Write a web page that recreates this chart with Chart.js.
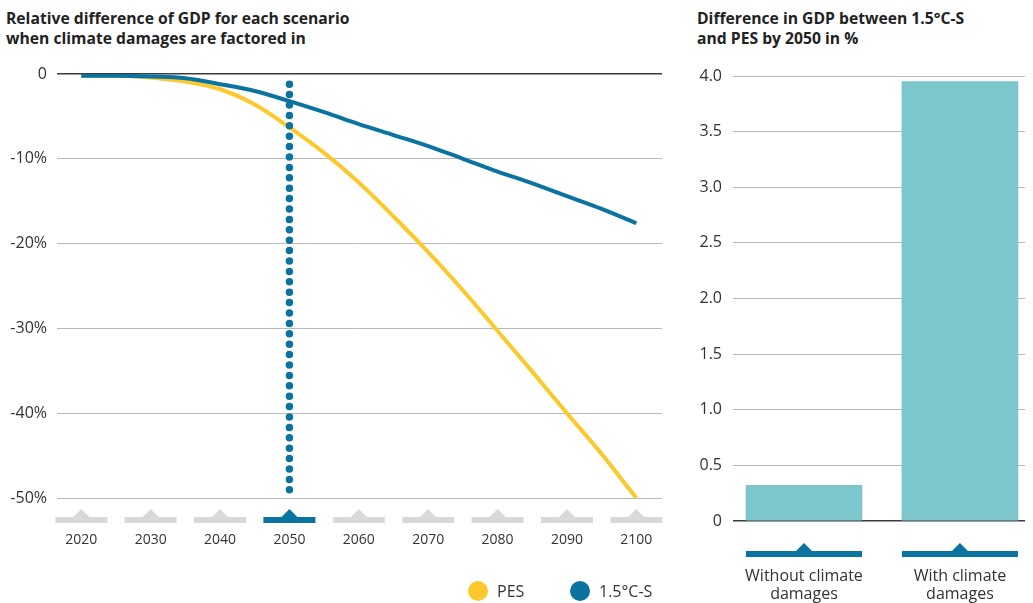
<!DOCTYPE html>
<html>
<head>
<meta charset="utf-8">
<script src="https://cdn.jsdelivr.net/npm/chart.js@4.4.0/dist/chart.umd.min.js"></script>
<style>
  body { margin: 0; width: 1033px; height: 603px; position: relative; background: #fff; overflow: hidden;
         font-family: "Open Sans", sans-serif; color: #222; }
  .title { position: absolute; font-weight: 700; font-size: 15.7px; line-height: 20px; }
  #leftWrap { position: absolute; left: 0; top: 0; width: 680px; height: 603px; }
  #rightWrap { position: absolute; left: 680px; top: 0; width: 353px; height: 603px; }
  .legend { position: absolute; top: 581px; font-size: 16px; line-height: 20px; color: #333; }
  .legend span.dot { display: inline-block; width: 20px; height: 20px; border-radius: 50%; vertical-align: top; margin-right: 9px; }
</style>
</head>
<body>
<div class="title" style="left:6px;top:8px;">Relative difference of GDP for each scenario<br>when climate damages are factored in</div>
<div class="title" style="left:697px;top:8px;">Difference in GDP between 1.5°C-S<br>and PES by 2050 in %</div>
<div id="leftWrap"><canvas id="lineChart" width="680" height="603"></canvas></div>
<div id="rightWrap"><canvas id="barChart" width="353" height="603"></canvas></div>
<div class="legend" style="left:468px;"><span class="dot" style="background:#fdc82b"></span>PES</div>
<div class="legend" style="left:570px;"><span class="dot" style="background:#0a73a0"></span>1.5°C-S</div>

<script>
// Line chart data (% vs. no-damage GDP)
const years = [2020, 2025, 2030, 2035, 2040, 2045, 2050, 2055, 2060, 2065, 2070, 2075, 2080, 2085, 2090, 2095, 2100];
const pesValues = [-0.2, -0.2, -0.4, -0.9, -1.8, -3.6, -6.3, -9.3, -12.8, -16.8, -21.0, -25.5, -30.3, -35.1, -40.0, -44.8, -50.0];
const c15Values = [-0.2, -0.2, -0.3, -0.5, -1.2, -2.0, -3.2, -4.5, -5.9, -7.2, -8.5, -10.0, -11.5, -12.9, -14.4, -15.9, -17.6];
const tickYears = [2020, 2030, 2040, 2050, 2060, 2070, 2080, 2090, 2100];
const lineTicks = [0, -10, -20, -30, -40, -50];
const highlightYear = 2050;
const markerRange = [-1.2, -50.2];

// Bar chart data
const barCategories = [['Without climate', 'damages'], ['With climate', 'damages']];
const barValues = [0.32, 3.95];
const barTicks = [0, 0.5, 1.0, 1.5, 2.0, 2.5, 3.0, 3.5, 4.0];

const PES_COLOR = '#fdc82b';
const C15_COLOR = '#0a73a0';
const BAR_COLOR = '#7bc7cb';
const GRID = '#b9b9b9';
const ZERO = '#3a3a3a';

Chart.defaults.font.family = '"Open Sans", sans-serif';
Chart.defaults.color = '#333';

// little tab with a triangle under each axis label
function drawTab(ctx, cx, y, w, color) {
  ctx.fillStyle = color;
  ctx.fillRect(cx - w / 2, y, w, 6);
  ctx.beginPath();
  ctx.moveTo(cx - 8, y);
  ctx.lineTo(cx, y - 8);
  ctx.lineTo(cx + 8, y);
  ctx.closePath();
  ctx.fill();
}

const lineTabs = {
  id: 'lineTabs',
  afterDraw(chart) {
    const ctx = chart.ctx, xs = chart.scales.x, b = chart.chartArea.bottom;
    ctx.save();
    tickYears.forEach(v => {
      drawTab(ctx, xs.getPixelForValue(v), b + 19, 52, v === highlightYear ? C15_COLOR : '#d9d9d9');
    });
    ctx.restore();
  }
};

const barTabs = {
  id: 'barTabs',
  afterDraw(chart) {
    const ctx = chart.ctx, xs = chart.scales.x, b = chart.chartArea.bottom;
    ctx.save();
    barValues.forEach((v, i) => {
      drawTab(ctx, xs.getPixelForValue(i), b + 30, 116, C15_COLOR);
    });
    ctx.restore();
  }
};

const gridColor = c => (c.tick && c.tick.value === 0 ? ZERO : GRID);
const gridWidth = c => (c.tick && c.tick.value === 0 ? 1.5 : 1);

new Chart(document.getElementById('lineChart'), {
  type: 'line',
  data: {
    datasets: [{
      label: 'marker',
      data: markerRange.map(v => ({ x: highlightYear, y: v })),
      borderColor: C15_COLOR,
      borderWidth: 7.5,
      borderDash: [0, 10.4],
      borderCapStyle: 'round',
      pointRadius: 0,
      order: 0
    }, {
      label: '1.5°C-S',
      data: years.map((y, i) => ({ x: y, y: c15Values[i] })),
      borderColor: C15_COLOR,
      borderWidth: 4,
      pointRadius: 0,
      cubicInterpolationMode: 'monotone',
      order: 1
    }, {
      label: 'PES',
      data: years.map((y, i) => ({ x: y, y: pesValues[i] })),
      borderColor: PES_COLOR,
      borderWidth: 4,
      pointRadius: 0,
      cubicInterpolationMode: 'monotone',
      order: 2
    }]
  },
  options: {
    responsive: false,
    animation: false,
    layout: { padding: { top: 74, right: 18, left: 0, bottom: 0 } },
    plugins: { legend: { display: false }, tooltip: { enabled: false } },
    scales: {
      x: {
        type: 'linear',
        bounds: 'data',
        min: 2016.5,
        max: 2103.7,
        afterBuildTicks: s => { s.ticks = tickYears.map(v => ({ value: v })); },
        afterFit: s => { s.height = 105; },
        grid: { display: false },
        border: { display: false },
        ticks: { padding: 26, font: { size: 14 }, callback: v => String(v) }
      },
      y: {
        min: -50,
        max: 0,
        afterBuildTicks: s => { s.ticks = lineTicks.map(v => ({ value: v })); },
        afterFit: s => { s.width = 57; },
        grid: { color: gridColor, lineWidth: gridWidth, drawTicks: false },
        border: { display: false },
        ticks: { padding: 10, font: { size: 16 }, callback: v => (v === 0 ? '0' : v + '%') }
      }
    }
  },
  plugins: [lineTabs]
});

new Chart(document.getElementById('barChart'), {
  type: 'bar',
  data: {
    datasets: [{
      data: barValues.map((v, i) => ({ x: i, y: v })),
      backgroundColor: BAR_COLOR,
      barThickness: 116
    }]
  },
  options: {
    responsive: false,
    animation: false,
    layout: { padding: { top: 76, right: 8, left: 0, bottom: 0 } },
    plugins: { legend: { display: false }, tooltip: { enabled: false } },
    scales: {
      x: {
        type: 'linear',
        bounds: 'data',
        offset: false,
        min: -0.455,
        max: 1.417,
        afterBuildTicks: s => { s.ticks = barValues.map((v, i) => ({ value: i })); },
        afterFit: s => { s.height = 82; s.paddingLeft = 0; s.paddingRight = 0; },
        grid: { display: false, offset: false },
        border: { display: false },
        ticks: { padding: 38, font: { size: 16, lineHeight: 1.125 }, callback: v => barCategories[v] }
      },
      y: {
        min: 0,
        max: 4,
        afterBuildTicks: s => { s.ticks = barTicks.map(v => ({ value: v })); },
        afterFit: s => { s.width = 53; },
        grid: { color: gridColor, lineWidth: gridWidth, drawTicks: false },
        border: { display: false },
        ticks: { padding: 11, font: { size: 16 }, callback: v => (v === 0 ? '0' : v.toFixed(1)) }
      }
    }
  },
  plugins: [barTabs]
});
</script>
</body>
</html>
